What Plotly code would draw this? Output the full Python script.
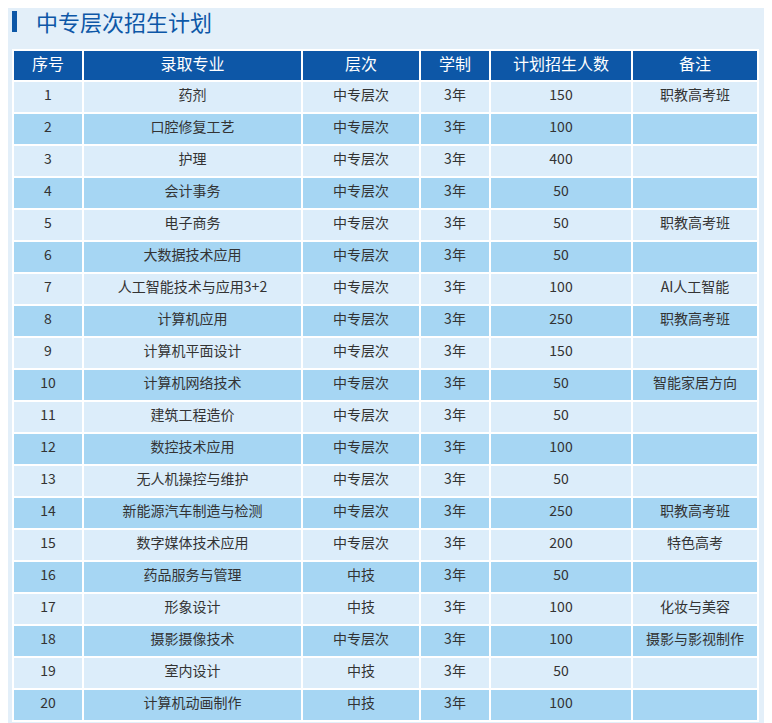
import plotly.graph_objects as go

headers = ["序号", "录取专业", "层次", "学制", "计划招生人数", "备注"]
nums = [str(i) for i in range(1, 21)]
majors = ["药剂", "口腔修复工艺", "护理", "会计事务", "电子商务", "大数据技术应用", "人工智能技术与应用3+2",
          "计算机应用", "计算机平面设计", "计算机网络技术", "建筑工程造价", "数控技术应用", "无人机操控与维护",
          "新能源汽车制造与检测", "数字媒体技术应用", "药品服务与管理", "形象设计", "摄影摄像技术", "室内设计", "计算机动画制作"]
levels = ["中专层次"] * 15 + ["中技", "中技", "中专层次", "中技", "中技"]
years = ["3年"] * 20
plan = [150, 100, 400, 50, 50, 50, 100, 250, 150, 50, 50, 100, 50, 250, 200, 50, 100, 100, 50, 100]
notes = ["职教高考班", "", "", "", "职教高考班", "", "AI人工智能", "职教高考班", "", "智能家居方向",
         "", "", "", "职教高考班", "特色高考", "", "化妆与美容", "摄影与影视制作", "", ""]

W, H = 772, 723
OFF = 8  # page body margin
row_fill = ["#dcedfa" if i % 2 == 0 else "#a6d6f3" for i in range(20)]

fig = go.Figure(go.Table(
    domain=dict(x=[(13 - OFF) / W, (758 - OFF) / W], y=[0, 1 - (50 - OFF) / H]),
    columnwidth=[70, 219, 118, 70, 142, 126],
    header=dict(values=headers, fill_color="#0d57a7", line=dict(color="white", width=1.5),
                font=dict(color="white", size=16, family="Noto Sans CJK SC"), height=31, align="center"),
    cells=dict(values=[nums, majors, levels, years, [str(p) for p in plan], notes],
               fill_color=[row_fill] * 6, line=dict(color="white", width=1.5),
               font=dict(color="#333333", size=14, family="Noto Sans CJK SC"), height=32, align="center"),
))
fig.add_shape(type="rect", xref="paper", yref="paper", x0=(12 - OFF) / W, x1=(17 - OFF) / W,
              y0=1 - (32 - OFF) / H, y1=1 - (11 - OFF) / H, fillcolor="#0d57a7", line_width=0)
fig.add_annotation(text="中专层次招生计划", xref="paper", yref="paper", x=(34 - OFF) / W, y=1 - (21 - OFF) / H,
                   xanchor="left", yanchor="middle", showarrow=False,
                   font=dict(size=22, color="#0d57a7", family="Noto Sans CJK SC"))
fig.update_layout(width=W, height=H, margin=dict(l=0, r=0, t=0, b=0),
                  paper_bgcolor="#e3eff9", plot_bgcolor="#e3eff9")
fig.write_html("out.html")
